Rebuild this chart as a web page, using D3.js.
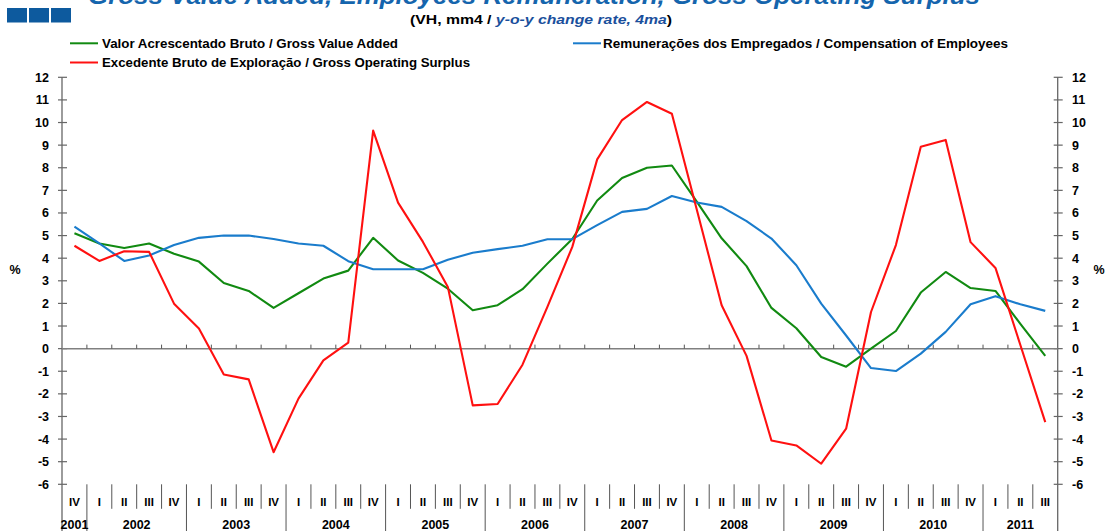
<!DOCTYPE html>
<html>
<head>
<meta charset="utf-8">
<script src="https://cdn.jsdelivr.net/npm/d3@7"></script>
<style>
  body { margin: 0; background: #fff; }
  svg { display: block; font-family: "Liberation Sans", Arial, sans-serif; font-weight: bold; }
</style>
</head>
<body>
<div id="chart"></div>
<script>
// quarters from 2001 IV to 2011 III
var quarters = ["IV",
  "I","II","III","IV", "I","II","III","IV", "I","II","III","IV",
  "I","II","III","IV", "I","II","III","IV", "I","II","III","IV",
  "I","II","III","IV", "I","II","III","IV", "I","II","III","IV",
  "I","II","III"];
var years = ["2001","2002","2003","2004","2005","2006","2007","2008","2009","2010","2011"];

// Valor Acrescentado Bruto / Gross Value Added
var gva = [5.1, 4.65, 4.45, 4.65, 4.2, 3.85, 2.9, 2.55, 1.8, 2.45, 3.1, 3.45, 4.9,
  3.9, 3.35, 2.65, 1.7, 1.92, 2.63, 3.76, 4.85, 6.55, 7.55, 8.0, 8.1,
  6.5, 4.88, 3.65, 1.8, 0.9, -0.37, -0.8, 0.0, 0.78, 2.48, 3.39, 2.68, 2.55, 1.1, -0.32];
// Remunerações dos Empregados / Compensation of Employees
var coe = [5.4, 4.65, 3.88, 4.12, 4.58, 4.9, 5.0, 5.0, 4.85, 4.65, 4.55, 3.87, 3.51,
  3.51, 3.51, 3.93, 4.24, 4.4, 4.55, 4.84, 4.84, 5.46, 6.05, 6.18, 6.75,
  6.46, 6.27, 5.64, 4.87, 3.69, 1.99, 0.58, -0.86, -0.99, -0.22, 0.74, 1.96, 2.32, 1.96, 1.67];
// Excedente Bruto de Exploração / Gross Operating Surplus
var gos = [4.55, 3.88, 4.31, 4.28, 1.99, 0.89, -1.14, -1.36, -4.58, -2.21, -0.52, 0.27, 9.64,
  6.46, 4.72, 2.73, -2.51, -2.45, -0.71, 1.85, 4.5, 8.37, 10.11, 10.91, 10.39,
  6.15, 1.92, -0.32, -4.06, -4.28, -5.09, -3.54, 1.62, 4.58, 8.93, 9.23, 4.71, 3.57, 0.16, -3.25];

var yTicks = d3.range(-6, 13);

var series = [
  {name: "Valor Acrescentado Bruto / Gross Value Added", values: gva, color: "#118a11"},
  {name: "Remunerações dos Empregados / Compensation of Employees", values: coe, color: "#1a7ccc"},
  {name: "Excedente Bruto de Exploração / Gross Operating Surplus", values: gos, color: "#ff1010"}
];

var width = 1106, height = 531;
var xLeft = 62, xRight = 1057.7, yTop = 77.3, yBottom = 484.3;
var axisColor = "#666";

var svg = d3.select("#chart").append("svg")
  .attr("width", width)
  .attr("height", height);

var x = d3.scaleBand()
  .domain(d3.range(quarters.length))
  .range([xLeft, xRight]);

var y = d3.scaleLinear()
  .domain([-6, 12])
  .range([yBottom, yTop]);

// header
svg.append("g").selectAll("rect")
  .data([0, 1, 2])
  .enter().append("rect")
  .attr("x", function(d) { return 7 + d * 22; })
  .attr("y", 8)
  .attr("width", 20)
  .attr("height", 14.5)
  .attr("fill", "#0d5a9e");

svg.append("text")
  .attr("x", 534)
  .attr("y", 4)
  .attr("text-anchor", "middle")
  .attr("font-size", 24)
  .attr("font-style", "italic")
  .attr("fill", "#1565ad")
  .attr("textLength", 892)
  .attr("lengthAdjust", "spacingAndGlyphs")
  .text("Gross Value Added, Employees Remuneration, Gross Operating Surplus");

var sub = svg.append("text")
  .attr("x", 410)
  .attr("y", 23.5)
  .attr("font-size", 12.5)
  .attr("fill", "#000")
  .attr("textLength", 262)
  .attr("lengthAdjust", "spacingAndGlyphs");
sub.append("tspan").text("(VH, mm4 / ");
sub.append("tspan").attr("fill", "#1a4f9c").attr("font-style", "italic").text("y-o-y change rate, 4ma");
sub.append("tspan").text(")");

// legend
var legendPos = [
  {lx: 70, ly: 43.3, tx: 102, tw: 296},
  {lx: 573, ly: 43.3, tx: 603, tw: 405},
  {lx: 70, ly: 62.5, tx: 102, tw: 368}
];
var legend = svg.append("g").selectAll("g")
  .data(series)
  .enter().append("g");
legend.append("line")
  .attr("x1", function(d, i) { return legendPos[i].lx; })
  .attr("x2", function(d, i) { return legendPos[i].lx + 28; })
  .attr("y1", function(d, i) { return legendPos[i].ly; })
  .attr("y2", function(d, i) { return legendPos[i].ly; })
  .attr("stroke", function(d) { return d.color; })
  .attr("stroke-width", 2);
legend.append("text")
  .attr("x", function(d, i) { return legendPos[i].tx; })
  .attr("y", function(d, i) { return legendPos[i].ly + 4.5; })
  .attr("font-size", 12.5)
  .attr("textLength", function(d, i) { return legendPos[i].tw; })
  .attr("lengthAdjust", "spacingAndGlyphs")
  .text(function(d) { return d.name; });

// y axes, ticks cross the line
[{ax: xLeft, side: -1}, {ax: xRight, side: 1}].forEach(function(a) {
  var g = svg.append("g");
  g.append("line")
    .attr("x1", a.ax).attr("x2", a.ax)
    .attr("y1", yTop).attr("y2", height)
    .attr("stroke", axisColor).attr("stroke-width", 1.3);
  g.selectAll(".tick")
    .data(yTicks)
    .enter().append("line")
    .attr("x1", a.ax - 4).attr("x2", a.ax + 5)
    .attr("y1", function(d) { return y(d); })
    .attr("y2", function(d) { return y(d); })
    .attr("stroke", axisColor).attr("stroke-width", 1.2);
  g.selectAll("text")
    .data(yTicks)
    .enter().append("text")
    .attr("x", a.side < 0 ? 49 : 1072)
    .attr("y", function(d) { return y(d) + 4.5; })
    .attr("text-anchor", a.side < 0 ? "end" : "start")
    .attr("font-size", 12.5)
    .text(function(d) { return d; });
  g.append("text")
    .attr("x", a.side < 0 ? 15 : 1099)
    .attr("y", 274)
    .attr("text-anchor", "middle")
    .attr("font-size", 12.5)
    .text("%");
});

// zero line with small quarter ticks
svg.append("line")
  .attr("x1", xLeft).attr("x2", xRight)
  .attr("y1", y(0)).attr("y2", y(0))
  .attr("stroke", "#808080").attr("stroke-width", 1.5);
svg.append("g").selectAll("line")
  .data(d3.range(1, quarters.length))
  .enter().append("line")
  .attr("x1", function(d) { return x(d); })
  .attr("x2", function(d) { return x(d); })
  .attr("y1", y(0) - 4)
  .attr("y2", y(0))
  .attr("stroke", "#555");

// category labels below the plot
var cat = svg.append("g");
cat.selectAll("line")
  .data(d3.range(1, quarters.length))
  .enter().append("line")
  .attr("x1", function(d) { return x(d); })
  .attr("x2", function(d) { return x(d); })
  .attr("y1", yBottom)
  .attr("y2", function(d) { return quarters[d] === "I" ? height : yBottom + 24.5; })
  .attr("stroke", "#555")
  .attr("stroke-width", 1);
cat.selectAll("text.q")
  .data(quarters)
  .enter().append("text")
  .attr("class", "q")
  .attr("x", function(d, i) { return x(i) + x.bandwidth() / 2; })
  .attr("y", 505.5)
  .attr("text-anchor", "middle")
  .attr("font-size", 11.5)
  .text(function(d) { return d; });

// year label sits at the middle of its quarters
var yearPos = years.map(function(yr, k) {
  var idx = [];
  var count = -1;
  quarters.forEach(function(q, i) {
    if (q === "I" || i === 0) count++;
    if (count === k) idx.push(i);
  });
  return (x(idx[0]) + x(idx[idx.length - 1]) + x.bandwidth()) / 2;
});
cat.selectAll("text.yr")
  .data(years)
  .enter().append("text")
  .attr("class", "yr")
  .attr("x", function(d, i) { return yearPos[i]; })
  .attr("y", 529)
  .attr("text-anchor", "middle")
  .attr("font-size", 12.5)
  .text(function(d) { return d; });

// lines
var line = d3.line()
  .x(function(d, i) { return x(i) + x.bandwidth() / 2; })
  .y(function(d) { return y(d); });

svg.append("g").selectAll("path")
  .data(series)
  .enter().append("path")
  .attr("d", function(d) { return line(d.values); })
  .attr("fill", "none")
  .attr("stroke", function(d) { return d.color; })
  .attr("stroke-width", 2.1)
  .attr("stroke-linejoin", "round");
</script>
</body>
</html>
